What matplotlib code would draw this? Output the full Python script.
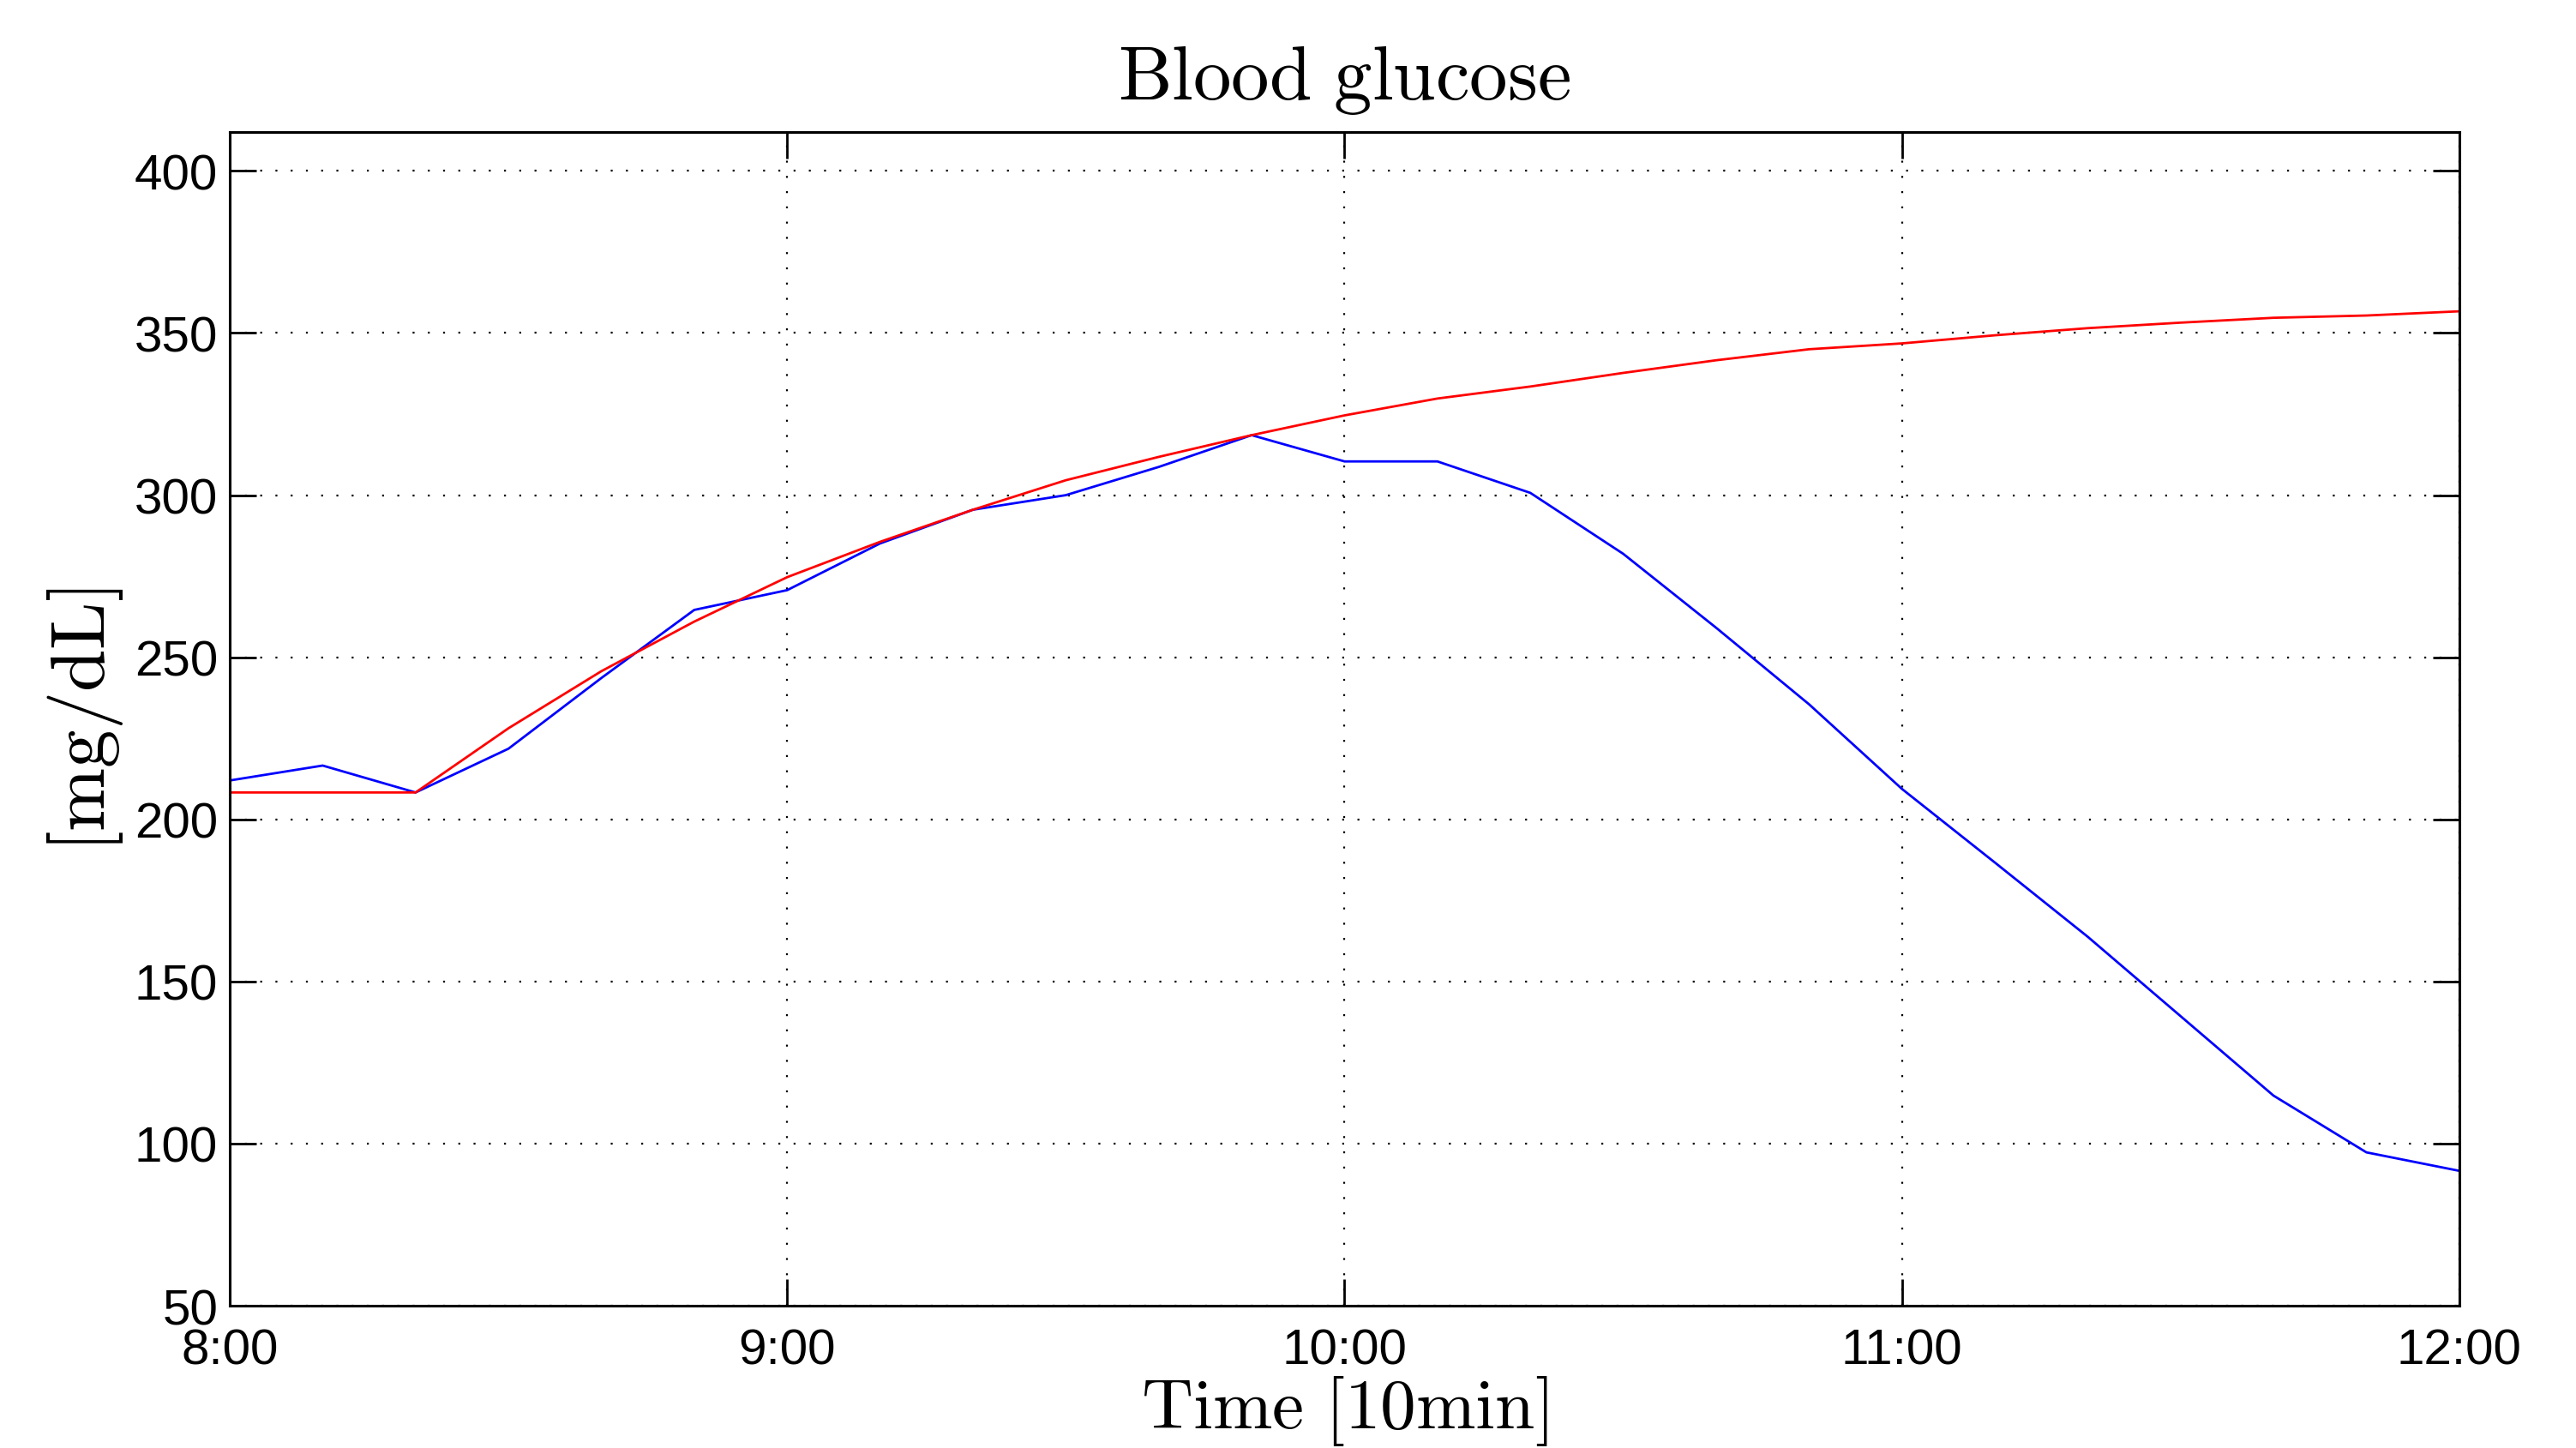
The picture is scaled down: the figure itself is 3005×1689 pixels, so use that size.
import matplotlib
matplotlib.use("Agg")
import matplotlib.pyplot as plt

# minutes after 8:00, one sample every 10 min
minutes = [0, 10, 20, 30, 40, 50, 60, 70, 80, 90, 100, 110, 120,
           130, 140, 150, 160, 170, 180, 190, 200, 210, 220, 230, 240]

measured = [212.0, 216.6, 208.3, 221.8, 243.6, 264.6, 270.7, 285.1, 295.5,
            300.0, 308.7, 318.5, 310.4, 310.4, 300.7, 281.9, 259.1, 235.5,
            209.4, 186.7, 163.8, 139.3, 114.8, 97.3, 91.6]

model = [208.3, 208.3, 208.3, 228.1, 245.7, 261.0, 274.7, 285.6, 295.5,
         304.6, 311.8, 318.5, 324.6, 329.8, 333.5, 337.7, 341.6, 345.0,
         346.8, 349.3, 351.5, 353.2, 354.7, 355.4, 356.7]

tick_pos = [0, 60, 120, 180, 240]
tick_labels = ["8:00", "9:00", "10:00", "11:00", "12:00"]
y_ticks = [50, 100, 150, 200, 250, 300, 350, 400]

plt.rcParams['mathtext.fontset'] = 'cm'
plt.rcParams['font.family'] = 'Liberation Sans'

fig = plt.figure(figsize=(15.025, 8.45), dpi=200)
ax = fig.add_axes([0.0892, 0.0982, 0.8655, 0.8101])

ax.plot(minutes, measured, color='blue', lw=1.0)
ax.plot(minutes, model, color='red', lw=1.0)

ax.set_xlim(0, 240)
ax.set_ylim(50, 412)
ax.set_xticks(tick_pos)
ax.set_xticklabels(tick_labels)
ax.set_yticks(y_ticks)

ax.tick_params(direction='in', length=11, width=1.0, labelsize=21,
               top=True, right=True)
ax.tick_params(axis='x', pad=9)
ax.tick_params(axis='y', pad=5)
for s in ax.spines.values():
    s.set_linewidth(1.1)

ax.grid(True, color='black', linestyle=(0, (1, 7)), linewidth=0.8)

ax.set_title(r'$\mathrm{Blood\ glucose}$', fontsize=32, pad=14)
ax.set_xlabel(r'$\mathrm{Time\ [10min]}$', fontsize=30, labelpad=0)
ax.set_ylabel(r'$\mathrm{[mg/dL]}$', fontsize=32, labelpad=4)

fig.savefig("out.png", dpi=200)
